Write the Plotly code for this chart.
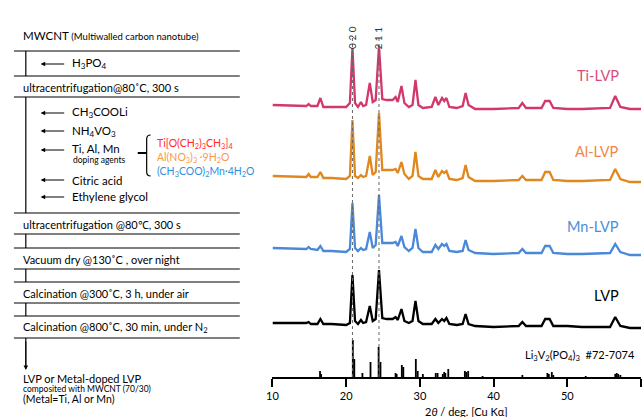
import plotly.graph_objects as go

W, H = 642, 417
FONT = "Lato"

# ---------------- data ----------------
two_theta = [10.0, 13.0, 14.6, 14.9, 15.2, 16.1, 16.5, 16.9, 18.0, 20.0, 20.5, 20.85, 21.2, 21.6,
             22.0, 22.3, 22.7, 23.2, 23.6, 24.0, 24.45, 24.9, 25.5, 26.3, 26.7, 27.0, 27.5, 27.9,
             28.5, 29.0, 29.4, 29.8, 30.4, 31.6, 32.1, 32.5, 33.0, 33.3, 33.6, 34.0, 35.0, 35.8,
             36.2, 36.6, 37.5, 40.0, 43.4, 43.9, 44.4, 46.5, 47.0, 47.6, 48.1, 50.0, 52.0, 55.8,
             56.5, 57.2, 58.5, 60.0]

ti_lvp = [0, -1, -1, 1, -1, -1, 7, -2, -2, -2, 2, 57, 2, -2,
          3, -1, 0, 22, 3, 5, 59, 6, 5, 5, 8, 3, 19, 2,
          -2, 0, 25, 0, -3, -2, 8, 0, 7, 4, 7, -2, -3, -1,
          12, 0, -4, -4, -3, 2, -3, -3, 4, 4, -3, -4, -4, -3,
          9, -2, -4, -4]

al_lvp = [0, -1, -1, 2, -1, -1, 4, -2, -2, -3, 0, 56, 0, -2,
          1, -1, 0, 20, 1, 4, 63, 6, 6, 6, 7, 3, 14, 2,
          -3, 0, 24, 0, -3, -3, 6, -1, 5, 3, 5, -3, -4, -2,
          11, -1, -5, -5, -4, 0, -4, -4, 4, 4, -4, -5, -5, -4,
          7, -3, -6, -6]

mn_lvp = [0, -1, -1, 1, -1, -2, 2, -3, -3, -4, -1, 45, 0, -3,
          0, -2, -1, 16, 0, 3, 53, 5, 5, 5, 6, 2, 12, 1,
          -3, 0, 19, 0, -4, -4, 3, -1, 4, 2, 4, -3, -4, -3,
          8, -2, -5, -6, -5, -1, -5, -5, 2, 2, -5, -6, -6, -5,
          4, -4, -7, -7]

lvp = [0, 0, 0, 1, -1, -1, 4, -1, -1, -2, 0, 48, 2, -1,
       3, 0, 1, 17, 2, 4, 53, 5, 4, 4, 6, 3, 14, 2,
       0, 2, 22, 2, -1, -1, 4, 0, 4, 2, 5, -1, -2, -1,
       9, -1, -3, -4, -3, 1, -3, -3, 4, 4, -3, -3, -4, -4,
       6, -3, -5, -5]

ref_two_theta = [16.45, 16.6, 20.9, 21.1, 22.2, 23.3, 24.4, 24.65, 26.7, 26.85, 27.55, 27.75,
                 29.45, 29.7, 30.4, 32.15, 32.4, 33.1, 33.3, 33.45, 33.85, 36.1, 36.3, 36.55,
                 38.5, 43.9, 47.3, 47.5, 47.9, 48.1, 52.5, 56.5, 56.7, 56.9, 57.2]
ref_intensity = [6, 3, 37, 18, 4, 15, 30, 15, 4, 3, 12, 10,
                 18, 6, 3, 4, 4, 3, 5, 4, 8, 6, 5, 6,
                 1, 2, 4, 3, 5, 2, 1, 3, 4, 3, 2]

series_names = ["Ti-LVP", "Al-LVP", "Mn-LVP", "LVP"]
tick_vals = [10, 20, 30, 40, 50, 60]
hkl_positions = [20.85, 24.45]
hkl_labels = ["0 2 0", "2 1 1"]
ref_label = "Li<sub>3</sub>V<sub>2</sub>(PO<sub>4</sub>)<sub>3</sub>  #72-7074"

# ---------------- styling / layout ----------------
series_data = [ti_lvp, al_lvp, mn_lvp, lvp]
offsets = [272, 201, 129, 54]
line_colors = ["#D2386C", "#E0871E", "#4A88D8", "#000000"]
label_colors = ["#D94A7E", "#F0874A", "#4A8ED9", "#000000"]
label_y_px = [76, 152, 227, 295]


def px(x):
    return x / W


def py(y):
    return 1 - y / H


fig = go.Figure()

for vals, off, col in zip(series_data, offsets, line_colors):
    fig.add_trace(go.Scatter(x=two_theta, y=[v + off for v in vals], mode="lines",
                             line=dict(color=col, width=2.3), hoverinfo="skip",
                             showlegend=False))

sx, sy = [], []
for t, h in zip(ref_two_theta, ref_intensity):
    sx += [t, t, None]
    sy += [0, h, None]
fig.add_trace(go.Scatter(x=sx, y=sy, mode="lines", line=dict(color="black", width=1.8),
                         hoverinfo="skip", showlegend=False))

shapes = []
annotations = []

# dotted guide lines + hkl labels
for pos, lab in zip(hkl_positions, hkl_labels):
    shapes.append(dict(type="line", xref="x", yref="y", x0=pos, x1=pos, y0=0, y1=340,
                       line=dict(color="#666666", width=1, dash="dot")))
    annotations.append(dict(xref="x", yref="paper", x=pos, y=py(24), text=lab, textangle=-90,
                            showarrow=False, font=dict(family=FONT, size=10, color="#333333")))

# series labels
for name, col, yl in zip(series_names, label_colors, label_y_px):
    annotations.append(dict(xref="paper", yref="paper", x=px(621), y=py(yl), text=name,
                            xanchor="right", yanchor="middle", showarrow=False,
                            font=dict(family=FONT, size=14.5, color=col)))

annotations.append(dict(xref="paper", yref="paper", x=px(637), y=py(355), text=ref_label,
                        xanchor="right", yanchor="middle", showarrow=False,
                        font=dict(family=FONT, size=11, color="black")))

annotations.append(dict(xref="paper", yref="paper", x=px(465), y=py(411),
                        text="2<i>θ</i> / deg. [Cu Kα]", xanchor="center", yanchor="middle",
                        showarrow=False, font=dict(family=FONT, size=11, color="black")))

# ---------------- flowchart ----------------
for yy in [51, 76, 97, 213, 234, 248, 269, 282, 303, 316, 338]:
    shapes.append(dict(type="line", xref="paper", yref="paper", x0=px(8), x1=px(236),
                       y0=py(yy), y1=py(yy), line=dict(color="black", width=1.2)))
for y0, y1 in [(51, 76), (97, 213), (234, 248), (269, 282), (303, 316)]:
    shapes.append(dict(type="line", xref="paper", yref="paper", x0=px(20), x1=px(20),
                       y0=py(y0), y1=py(y1), line=dict(color="black", width=1.2)))


def text(x, y, s, size=11, color="black"):
    annotations.append(dict(xref="paper", yref="paper", x=px(x), y=py(y), text=s,
                            xanchor="left", yanchor="middle", showarrow=False,
                            font=dict(family=FONT, size=size, color=color)))


def left_arrow(y):
    annotations.append(dict(xref="paper", yref="paper", x=px(35), y=py(y), text="",
                            showarrow=True, ax=25, ay=0, arrowhead=2, arrowsize=0.9,
                            arrowwidth=1, arrowcolor="black"))


text(15, 35, "MWCNT <span style='font-size:9.5px'>(Multiwalled carbon nanotube)</span>", 11.5)
text(15, 87, "ultracentrifugation@80˚C, 300 s")
text(15, 224, "ultracentrifugation @80℃, 300 s")
text(15, 259, "Vacuum dry @130˚C , over night")
text(15, 293, "Calcination @300˚C, 3 h, under air")
text(15, 327, "Calcination @800˚C, 30 min, under N<sub>2</sub>")

for yy, s in [(64, "H<sub>3</sub>PO<sub>4</sub>"), (113, "CH<sub>3</sub>COOLi"),
              (131, "NH<sub>4</sub>VO<sub>3</sub>"), (148, "Ti, Al, Mn"),
              (180, "Citric acid"), (197, "Ethylene glycol")]:
    text(65, yy, s, 11.5)
    left_arrow(yy if yy != 148 else 150)
text(66, 160, "doping agents", 8.5)

# bracket
shapes.append(dict(type="line", xref="paper", yref="paper", x0=px(133), x1=px(142),
                   y0=py(153), y1=py(153), line=dict(color="black", width=2)))
path = (f"M {px(146)},{py(135)} Q {px(142)},{py(135)} {px(142)},{py(139)} "
        f"L {px(142)},{py(172)} Q {px(142)},{py(176)} {px(146)},{py(176)}")
shapes.append(dict(type="path", xref="paper", yref="paper", path=path,
                   line=dict(color="black", width=1.2)))
text(150, 144, "Ti[O(CH<sub>2</sub>)<sub>3</sub>CH<sub>3</sub>]<sub>4</sub>", 10.5, "#FF2A2A")
text(150, 158, "Al(NO<sub>3</sub>)<sub>3</sub> ·9H<sub>2</sub>O", 10.5, "#F59A46")
text(150, 172, "(CH<sub>3</sub>COO)<sub>2</sub>Mn·4H<sub>2</sub>O", 10.5, "#2E8FE0")

# final arrow
shapes.append(dict(type="line", xref="paper", yref="paper", x0=px(20), x1=px(20),
                   y0=py(338), y1=py(366), line=dict(color="black", width=1.2)))
annotations.append(dict(xref="paper", yref="paper", x=px(20), y=py(370), text="",
                        showarrow=True, ax=0, ay=-30, arrowhead=2, arrowsize=0.9,
                        arrowwidth=1, arrowcolor="black"))
text(15, 378, "LVP or Metal-doped LVP", 11)
text(15, 389, "composited with MWCNT (70/30)", 8.5)
text(15, 399, "(Metal=Ti, Al or Mn)", 10.5)

fig.update_layout(
    width=W, height=H, margin=dict(l=0, r=0, t=0, b=0),
    paper_bgcolor="white", plot_bgcolor="white",
    showlegend=False, shapes=shapes, annotations=annotations,
    font=dict(family=FONT, size=11, color="black"),
    xaxis=dict(range=[10, 60], domain=[px(269), px(641)], showline=True, linecolor="black",
               linewidth=1.5, ticks="outside", ticklen=8, tickwidth=1.5, tickcolor="black",
               tickvals=tick_vals, tickfont=dict(family=FONT, size=11), showgrid=False,
               zeroline=False, fixedrange=True),
    yaxis=dict(range=[0, 377], domain=[40 / H, 1], visible=False, fixedrange=True),
)

fig.write_html("out.html")
